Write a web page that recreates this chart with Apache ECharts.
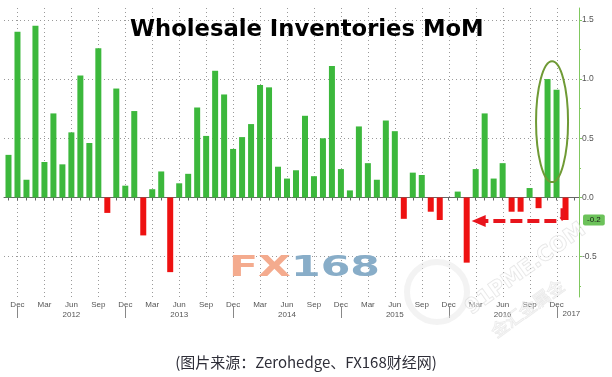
<!DOCTYPE html>
<html><head><meta charset="utf-8">
<script src="https://cdn.jsdelivr.net/npm/echarts@6/dist/echarts.min.js"></script>
<style>html,body{margin:0;padding:0;background:#fff}#c{width:612px;height:377px}</style>
</head><body><div id="c"></div>
<script>
const months = [
  'Nov 2011','Dec 2011',
  'Jan 2012','Feb 2012','Mar 2012','Apr 2012','May 2012','Jun 2012','Jul 2012','Aug 2012','Sep 2012','Oct 2012','Nov 2012','Dec 2012',
  'Jan 2013','Feb 2013','Mar 2013','Apr 2013','May 2013','Jun 2013','Jul 2013','Aug 2013','Sep 2013','Oct 2013','Nov 2013','Dec 2013',
  'Jan 2014','Feb 2014','Mar 2014','Apr 2014','May 2014','Jun 2014','Jul 2014','Aug 2014','Sep 2014','Oct 2014','Nov 2014','Dec 2014',
  'Jan 2015','Feb 2015','Mar 2015','Apr 2015','May 2015','Jun 2015','Jul 2015','Aug 2015','Sep 2015','Oct 2015','Nov 2015','Dec 2015',
  'Jan 2016','Feb 2016','Mar 2016','Apr 2016','May 2016','Jun 2016','Jul 2016','Aug 2016','Sep 2016','Oct 2016','Nov 2016','Dec 2016',
  'Jan 2017','Feb 2017'
];
const values = [
  0.36, 1.40,
  0.15, 1.45, 0.30, 0.71, 0.28, 0.55, 1.03, 0.46, 1.26, -0.13, 0.92, 0.10,
  0.73, -0.32, 0.07, 0.22, -0.63, 0.12, 0.20, 0.76, 0.52, 1.07, 0.87, 0.41,
  0.51, 0.62, 0.95, 0.93, 0.26, 0.16, 0.23, 0.69, 0.18, 0.50, 1.11, 0.24,
  0.06, 0.60, 0.29, 0.15, 0.65, 0.56, -0.18, 0.21, 0.19, -0.12, -0.19, 0.00,
  0.05, -0.55, 0.24, 0.71, 0.16, 0.29, -0.12, -0.12, 0.08, -0.09, 1.00, 0.91,
  -0.19, null
];
const yTickValues = [-0.5, 0, 0.5, 1.0, 1.5];
const yMinorTickValues = [-0.75, -0.25, 0.25, 0.75, 1.25];
const quarterMonths = ['Dec', 'Mar', 'Jun', 'Sep'];
const yearLabelMonth = 'Jun';
const lastYearLabel = 'Jan 2017';
const highlightMonths = ['Nov 2016', 'Dec 2016'];
const arrowFrom = 'Jan 2017';
const arrowTo = 'Feb 2016';
const lastValue = -0.19;
const titleText = 'Wholesale Inventories MoM';
const captionText = '(图片来源：Zerohedge、FX168财经网)';

const GREEN = '#3cb83c', RED = '#ee1111', GRID = '#9a9a9a', AXISGREEN = '#80c860';
const isQuarter = v => quarterMonths.indexOf(v.split(' ')[0]) >= 0;
const isDec = v => v.split(' ')[0] === 'Dec';
const yMin = -0.84, yMax = 1.6;

const chart = echarts.init(document.getElementById('c'), null, {renderer: 'canvas'});
chart.setOption({
  animation: false,
  backgroundColor: '#fff',
  title: [{
    text: titleText, left: 125, top: 14,
    textStyle: {fontFamily: 'DejaVu Sans', fontWeight: 'bold', fontSize: 22.7, color: '#000'}
  }, {
    text: captionText, left: 'center', top: 350,
    textStyle: {fontFamily: 'Noto Sans CJK SC', fontWeight: 'normal', fontSize: 15, color: '#2e2e38'}
  }],
  grid: {left: 4, right: 33, top: 8, bottom: 80},
  xAxis: [{
    type: 'category', data: months, position: 'bottom',
    axisLine: {show: true, lineStyle: {color: '#666', width: 1}},
    axisTick: {show: true, interval: 0, alignWithLabel: true, length: 3, lineStyle: {color: '#666'}},
    axisLabel: {
      interval: (i, v) => isQuarter(v),
      formatter: v => {
        const p = v.split(' ');
        return p[0] === yearLabelMonth ? p[0] + '\n' + p[1] : p[0];
      },
      fontSize: 8, fontFamily: 'Liberation Sans', color: '#555', margin: 3, lineHeight: 10
    },
    splitLine: {show: false}, splitArea: {show: false}
  }],
  yAxis: [{
    type: 'value', position: 'right', min: yMin, max: yMax,
    axisLine: {show: true, lineStyle: {color: AXISGREEN, width: 1}},
    axisTick: {show: true, customValues: yTickValues, length: 3, lineStyle: {color: AXISGREEN}},
    axisLabel: {customValues: yTickValues, formatter: v => v.toFixed(1), fontSize: 8.5,
      fontFamily: 'Liberation Sans', color: '#555', margin: 3},
    splitLine: {show: true, lineStyle: {type: [1, 3], color: GRID, width: 1}}
  }, {
    type: 'value', position: 'right', min: yMin, max: yMax,
    axisLine: {show: false},
    axisTick: {show: true, customValues: yMinorTickValues, length: 2, lineStyle: {color: AXISGREEN}},
    axisLabel: {show: false}, splitLine: {show: false}
  }, {
    type: 'value', position: 'right', min: yMin, max: yMax,
    axisLine: {show: false}, axisTick: {show: false}, splitLine: {show: false},
    axisLabel: {customValues: [lastValue], formatter: v => v.toFixed(1), fontSize: 8,
      fontFamily: 'Liberation Sans', color: '#1a1a1a', margin: 4,
      backgroundColor: '#6cc25a', padding: [2, 4, 1, 4], borderRadius: 2}
  }],
  series: [{
    type: 'bar', xAxisIndex: 0, yAxisIndex: 0, barWidth: 6, z: 3,
    data: values.map(v => v === null ? null : {value: v, itemStyle: {color: v >= 0 ? GREEN : RED}})
  }]
});

const px = (m, v) => chart.convertToPixel({xAxisIndex: 0, yAxisIndex: 0}, [m, v]);
const yTopPx = px(months[0], yMax)[1], yBotPx = px(months[0], yMin)[1];

const gridLines = months.filter(isQuarter).map(m => {
  const x = Math.round(px(m, 0)[0]) + 0.5;
  return {type: 'line', z: 0, silent: true, shape: {x1: x, y1: yTopPx, x2: x, y2: yBotPx},
    style: {stroke: GRID, lineWidth: 1, lineDash: [1, 3]}};
});
const sepLines = months.filter(isDec).map(m => {
  const x = Math.round(px(m, 0)[0]) + 0.5;
  return {type: 'line', z: 0, silent: true, shape: {x1: x, y1: yBotPx + 10, x2: x, y2: yBotPx + 21},
    style: {stroke: '#888', lineWidth: 1}};
});
const pLastYear = px(lastYearLabel, 0);

const pa = px(highlightMonths[0], 0.64), pb = px(highlightMonths[1], 0.64);
const pTop = px(highlightMonths[0], 1.15), pBot = px(highlightMonths[0], 0.13);
const ex = (pa[0] + pb[0]) / 2, ey = (pTop[1] + pBot[1]) / 2, ery = (pBot[1] - pTop[1]) / 2;
const pFrom = px(arrowFrom, lastValue), pTo = px(arrowTo, lastValue);
const pFromTop = px(arrowFrom, -0.09);
const ay = pFrom[1] + 1;
const tipX = pTo[0] + 5;

chart.setOption({
  graphic: gridLines.concat(sepLines).concat([
    {type: 'text', x: pLastYear[0] - 3, y: yBotPx + 13, z: 5, silent: true,
      style: {text: lastYearLabel.split(' ')[1], fontSize: 8, fontFamily: 'Liberation Sans', fill: '#555'}},
    {type: 'text', left: 229, top: 254, z: 1, scaleX: 1.47, silent: true,
      style: {text: '{a|FX}{b|168}', rich: {
        a: {fontSize: 29, fontWeight: 'bold', fontFamily: 'DejaVu Sans', fill: '#f4ab8e'},
        b: {fontSize: 29, fontWeight: 'bold', fontFamily: 'DejaVu Sans', fill: '#88adc8'}}}},
    {type: 'circle', shape: {cx: 437, cy: 292, r: 30}, z: 50, silent: true,
      style: {fill: 'none', stroke: 'rgba(228,228,228,0.45)', lineWidth: 6}},
    {type: 'text', x: 462, y: 302, rotation: 0.62, z: 50, silent: true,
      style: {text: '91PME.COM', fontSize: 21, fontWeight: 'bold', fontFamily: 'DejaVu Sans',
        fill: 'rgba(255,255,255,0.45)', stroke: 'rgba(200,200,200,0.5)', lineWidth: 1}},
    {type: 'text', x: 488, y: 326, rotation: 0.62, z: 50, silent: true,
      style: {text: '金汇金属金', fontSize: 17, fontFamily: 'Noto Sans CJK SC',
        fill: 'rgba(255,255,255,0.4)', stroke: 'rgba(205,205,205,0.45)', lineWidth: 1}},
    {type: 'ellipse', shape: {cx: ex, cy: ey, rx: 16, ry: ery}, z: 60, silent: true,
      style: {fill: 'none', stroke: '#6f9a35', lineWidth: 2}},
    {type: 'polyline', z: 60, silent: true,
      shape: {points: [[pFrom[0] - 3, pFromTop[1]], [pFrom[0] - 3, ay - 3], [pFrom[0] - 7, ay], [tipX + 12, ay]]},
      style: {stroke: '#e8141c', lineWidth: 4, lineDash: [12, 5], fill: 'none'}},
    {type: 'polygon', z: 60, silent: true,
      shape: {points: [[tipX, ay], [tipX + 14, ay - 6], [tipX + 14, ay + 6]]},
      style: {fill: '#e8141c'}}
  ])
});
</script>
</body></html>
